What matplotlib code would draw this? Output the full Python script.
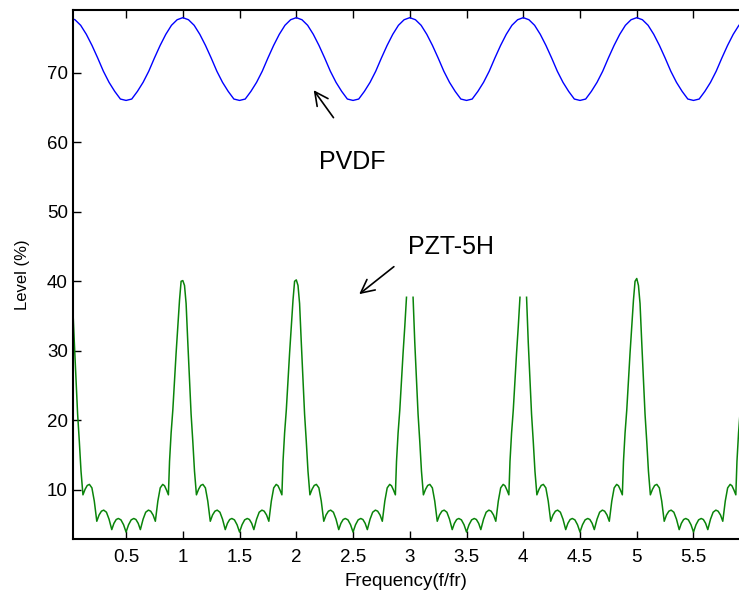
import matplotlib
matplotlib.use("Agg")
import matplotlib.pyplot as plt

# ---------------------------------------------------------------- data
# PVDF level, sampled every 0.05 f/fr from 0 to 5.95
pvdf_x = [i * 0.05 for i in range(120)]
pvdf_y = [
    77.9, 77.6, 76.8, 75.5, 73.9, 72.1, 70.2, 68.6, 67.3, 66.2, 66.0, 66.2, 67.3, 68.6, 70.2, 72.1, 73.9, 75.5, 76.8, 77.6,
    77.9, 77.6, 76.8, 75.5, 73.9, 72.1, 70.2, 68.6, 67.3, 66.2, 66.0, 66.2, 67.3, 68.6, 70.2, 72.1, 73.9, 75.5, 76.8, 77.6,
    77.9, 77.6, 76.8, 75.5, 73.9, 72.1, 70.2, 68.6, 67.3, 66.2, 66.0, 66.2, 67.3, 68.6, 70.2, 72.1, 73.9, 75.5, 76.8, 77.6,
    77.9, 77.6, 76.8, 75.5, 73.9, 72.1, 70.2, 68.6, 67.3, 66.2, 66.0, 66.2, 67.3, 68.6, 70.2, 72.1, 73.9, 75.5, 76.8, 77.6,
    77.9, 77.6, 76.8, 75.5, 73.9, 72.1, 70.2, 68.6, 67.3, 66.2, 66.0, 66.2, 67.3, 68.6, 70.2, 72.1, 73.9, 75.5, 76.8, 77.6,
    77.9, 77.6, 76.8, 75.5, 73.9, 72.1, 70.2, 68.6, 67.3, 66.2, 66.0, 66.2, 67.3, 68.6, 70.2, 72.1, 73.9, 75.5, 76.8, 77.6,
]

# PZT-5H: positions read relative to each resonance (f/fr = 0, 1, ..., 6)
pzt_offsets = [
    -0.5, -0.478, -0.455, -0.432, -0.413, -0.393, -0.374, -0.35, -0.327, -0.303, -0.283, -0.262, -0.242,
    -0.22, -0.199, -0.177, -0.161, -0.144, -0.127,
    -0.117, -0.103, -0.088, -0.073, -0.059, -0.044, -0.029, -0.015, 0.0,
    0.015, 0.029, 0.044, 0.059, 0.073, 0.088, 0.103,
    0.12, 0.139, 0.158, 0.177, 0.199, 0.22, 0.242, 0.262, 0.283, 0.303, 0.327, 0.35, 0.374,
    0.393, 0.413, 0.432, 0.455, 0.478,
]
nan = float("nan")
# level around each resonance (the tops at 3 and 4 are cut in the original)
pzt_r0 = [36.8, 31.2, 26.0, 20.9, 17.0, 12.7,
          9.3, 10.1, 10.65, 10.8, 10.3, 8.4, 5.5, 6.4, 6.95, 7.1, 6.8, 5.8, 4.3, 5.2, 5.75, 5.9, 5.7, 5.0]
pzt_r1 = [3.95, 5.0, 5.7, 5.9, 5.75, 5.2, 4.3, 5.8, 6.8, 7.1, 6.95, 6.4, 5.5, 8.4, 10.3, 10.8, 10.6, 10.0, 9.3,
          14.1, 18.2, 21.5, 25.8, 29.7, 33.5, 37.3, 40.0, 40.1, 39.4, 36.8, 31.2, 26.0, 20.9, 17.0, 12.7,
          9.3, 10.1, 10.65, 10.8, 10.3, 8.4, 5.5, 6.4, 6.95, 7.1, 6.8, 5.8, 4.3, 5.2, 5.75, 5.9, 5.7, 5.0]
pzt_r2 = [3.95, 5.0, 5.7, 5.9, 5.75, 5.2, 4.3, 5.8, 6.8, 7.1, 6.95, 6.4, 5.5, 8.4, 10.3, 10.8, 10.6, 10.0, 9.3,
          14.1, 18.2, 21.5, 25.8, 29.7, 33.5, 37.3, 40.0, 40.2, 39.4, 36.8, 31.2, 26.0, 20.9, 17.0, 12.7,
          9.3, 10.1, 10.65, 10.8, 10.3, 8.4, 5.5, 6.4, 6.95, 7.1, 6.8, 5.8, 4.3, 5.2, 5.75, 5.9, 5.7, 5.0]
pzt_r3 = [3.95, 5.0, 5.7, 5.9, 5.75, 5.2, 4.3, 5.8, 6.8, 7.1, 6.95, 6.4, 5.5, 8.4, 10.3, 10.8, 10.6, 10.0, 9.3,
          14.1, 18.2, 21.5, 25.8, 29.7, 33.5, 37.7, nan, nan, nan, 37.7, 31.2, 26.0, 20.9, 17.0, 12.7,
          9.3, 10.1, 10.65, 10.8, 10.3, 8.4, 5.5, 6.4, 6.95, 7.1, 6.8, 5.8, 4.3, 5.2, 5.75, 5.9, 5.7, 5.0]
pzt_r4 = [3.95, 5.0, 5.7, 5.9, 5.75, 5.2, 4.3, 5.8, 6.8, 7.1, 6.95, 6.4, 5.5, 8.4, 10.3, 10.8, 10.6, 10.0, 9.3,
          14.1, 18.2, 21.5, 25.8, 29.7, 33.5, 37.7, nan, nan, nan, 37.7, 31.2, 26.0, 20.9, 17.0, 12.7,
          9.3, 10.1, 10.65, 10.8, 10.3, 8.4, 5.5, 6.4, 6.95, 7.1, 6.8, 5.8, 4.3, 5.2, 5.75, 5.9, 5.7, 5.0]
pzt_r5 = [3.95, 5.0, 5.7, 5.9, 5.75, 5.2, 4.3, 5.8, 6.8, 7.1, 6.95, 6.4, 5.5, 8.4, 10.3, 10.8, 10.6, 10.0, 9.3,
          14.1, 18.2, 21.5, 25.8, 29.7, 33.5, 37.3, 40.0, 40.4, 39.4, 36.8, 31.2, 26.0, 20.9, 17.0, 12.7,
          9.3, 10.1, 10.65, 10.8, 10.3, 8.4, 5.5, 6.4, 6.95, 7.1, 6.8, 5.8, 4.3, 5.2, 5.75, 5.9, 5.7, 5.0]
pzt_r6 = [3.95, 5.0, 5.7, 5.9, 5.75, 5.2, 4.3, 5.8, 6.8, 7.1, 6.95, 6.4, 5.5, 8.4, 10.3, 10.8, 10.6, 10.0, 9.3,
          14.1, 18.2, 21.5]

x_ticks = [0.5, 1, 1.5, 2, 2.5, 3, 3.5, 4, 4.5, 5, 5.5]
x_ticklabels = ["0.5", "1", "1.5", "2", "2.5", "3", "3.5", "4", "4.5", "5", "5.5"]
y_ticks = [10, 20, 30, 40, 50, 60, 70]

# samples of each resonance segment: r0 starts at +0.029, r6 stops at -0.088
pzt_x, pzt_y = [], []
segments = [(0, pzt_offsets[29:], pzt_r0), (1, pzt_offsets, pzt_r1), (2, pzt_offsets, pzt_r2),
            (3, pzt_offsets, pzt_r3), (4, pzt_offsets, pzt_r4), (5, pzt_offsets, pzt_r5),
            (6, pzt_offsets[:22], pzt_r6)]
for centre, offs, vals in segments:
    pzt_x += [centre + o for o in offs]
    pzt_y += vals

# ---------------------------------------------------------------- figure
plt.rcParams["font.family"] = ["Liberation Sans", "DejaVu Sans"]

fig = plt.figure(figsize=(7.39, 5.97), dpi=100)
ax = fig.add_axes([73.3 / 739, 58 / 597, 1 - 73.3 / 739, 529 / 597])

ax.plot(pvdf_x, pvdf_y, color="#0000FF", lw=1.0)
ax.plot(pzt_x, pzt_y, color="#0A840A", lw=1.1)

ax.set_xlim(0.035, 5.901)
ax.set_ylim(2.95, 79.0)
ax.set_xticks(x_ticks)
ax.set_xticklabels(x_ticklabels)
ax.set_yticks(y_ticks)
ax.tick_params(direction="in", length=5.5, width=1.0, labelsize=13.5, top=True)
ax.tick_params(axis="y", pad=4)
ax.tick_params(axis="x", pad=7)
ax.spines["right"].set_visible(False)
for s in ("left", "bottom", "top"):
    ax.spines[s].set_linewidth(1.5)

ax.set_xlabel("Frequency(f/fr)", fontsize=13.5, labelpad=5)
ax.set_ylabel("Level (%)", fontsize=12, labelpad=12)

# annotations
ax.annotate("", xy=(2.139, 67.8), xytext=(2.342, 63.2),
            arrowprops=dict(arrowstyle="->", color="black", lw=1.2, mutation_scale=24))
ax.text(2.49, 57.2, "PVDF", fontsize=18, ha="center", va="center")
ax.annotate("", xy=(2.535, 37.9), xytext=(2.879, 42.35),
            arrowprops=dict(arrowstyle="->", color="black", lw=1.2, mutation_scale=24))
ax.text(3.364, 44.9, "PZT-5H", fontsize=18, ha="center", va="center")

fig.savefig("out.png", dpi=100)
